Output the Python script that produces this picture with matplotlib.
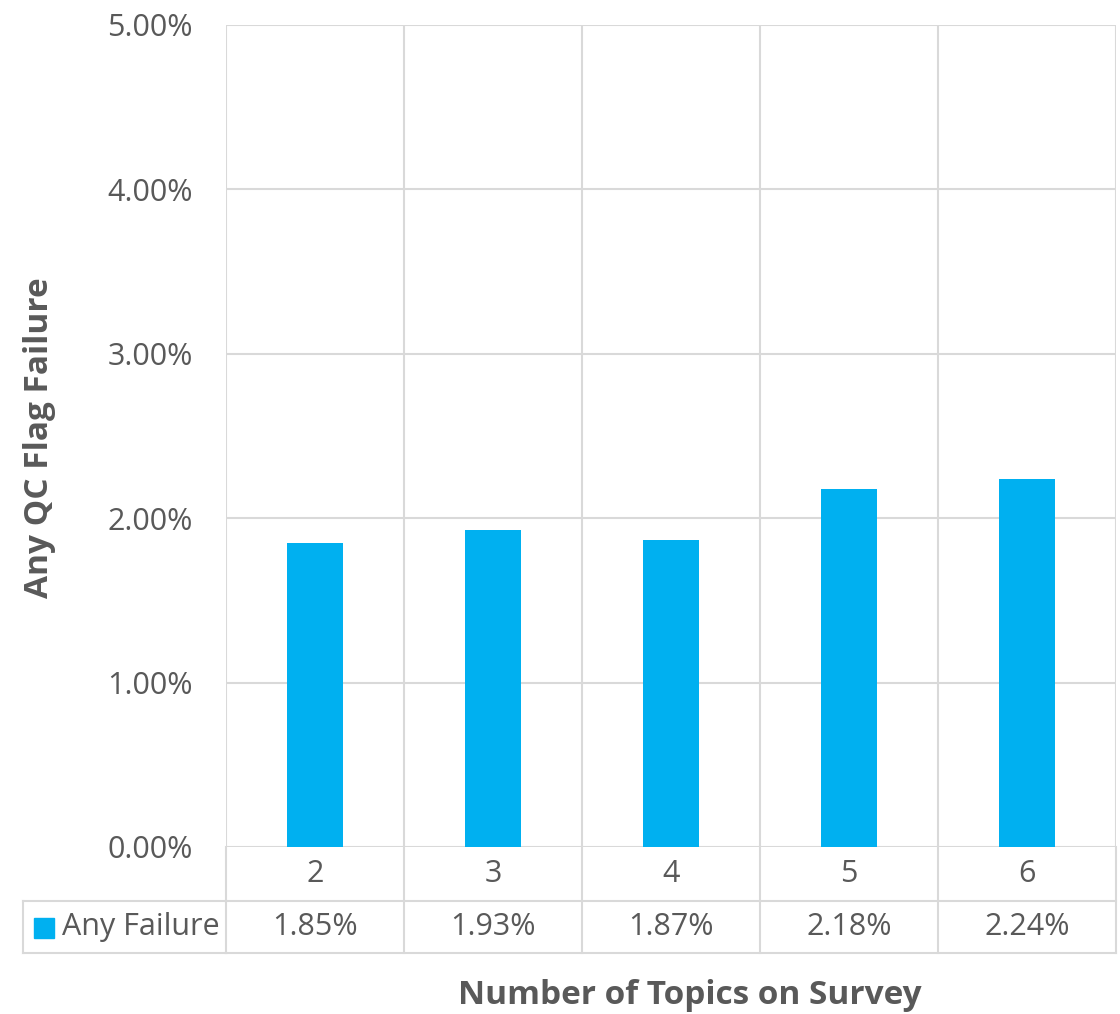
import numpy as np
import matplotlib.pyplot as plt

plt.rcParams['font.family'] = ['Open Sans', 'DejaVu Sans']

topics = ['2', '3', '4', '5', '6']
any_failure = [1.85, 1.93, 1.87, 2.18, 2.24]
series_name = 'Any Failure'
y_ticks = [0, 1, 2, 3, 4, 5]

bar_color = '#00b0f0'
grid_color = '#d9d9d9'
text_color = '#595959'

W, H = 1120, 1014
fig = plt.figure(figsize=(W / 100, H / 100), dpi=100)

# plot area in pixels
left, right, top, bottom = 226, 1116, 25, 847
ax = fig.add_axes([left / W, 1 - bottom / H, (right - left) / W, (bottom - top) / H])

x = np.arange(len(topics))
ax.bar(x, any_failure, width=0.315, color=bar_color, zorder=3)

ax.set_xlim(-0.5, len(topics) - 0.5)
ax.set_ylim(0, 5)
ax.set_yticks(y_ticks)
ax.set_yticklabels([f'{v:.2f}%' for v in y_ticks], fontsize=22, color=text_color)
ax.tick_params(axis='y', length=0, pad=24)
ax.set_xticks([])
for s in ax.spines.values():
    s.set_visible(False)

# gridlines
for v in y_ticks:
    ax.axhline(v, color=grid_color, lw=1.5, zorder=1)
for b in np.arange(len(topics) + 1) - 0.5:
    ax.axvline(b, color=grid_color, lw=1.5, zorder=1)

# data table below the plot
ph = bottom - top
row1 = -(901 - bottom) / ph
row2 = -(953 - bottom) / ph
leg_left = (23 - left) / (right - left)
tr = ax.get_xaxis_transform()
kw = dict(color=grid_color, lw=1.5, clip_on=False)
for b in np.arange(len(topics) + 1) - 0.5:
    ax.plot([b, b], [0, row2], transform=tr, **kw)
ax.plot([-0.5, len(topics) - 0.5], [row1, row1], transform=tr, **kw)
ax.plot([-0.5, len(topics) - 0.5], [row2, row2], transform=tr, **kw)
ax.plot([leg_left, 0], [row1, row1], transform=ax.transAxes, **kw)
ax.plot([leg_left, 0], [row2, row2], transform=ax.transAxes, **kw)
ax.plot([leg_left, leg_left], [row1, row2], transform=ax.transAxes, **kw)

for i, (t, v) in enumerate(zip(topics, any_failure)):
    ax.text(i, row1 / 2, t, transform=tr, ha='center', va='center',
            fontsize=22, color=text_color)
    ax.text(i, (row1 + row2) / 2, f'{v:.2f}%', transform=tr, ha='center',
            va='center', fontsize=22, color=text_color)

# legend key in table
fig.patches.append(plt.Rectangle((34 / W, 1 - 938 / H), 20 / W, 20 / H,
                                 transform=fig.transFigure, color=bar_color))
fig.text(62 / W, 1 - 927 / H, series_name, ha='left', va='center',
         fontsize=22, color=text_color)

fig.text(40 / W, 1 - 438 / H, 'Any QC Flag Failure', rotation=90, ha='center',
         va='center', fontsize=24, fontweight='bold', color=text_color)
fig.text(690 / W, 1 - 995 / H, 'Number of Topics on Survey', ha='center',
         va='center', fontsize=24, fontweight='bold', color=text_color)

fig.savefig('out.png', dpi=100)
